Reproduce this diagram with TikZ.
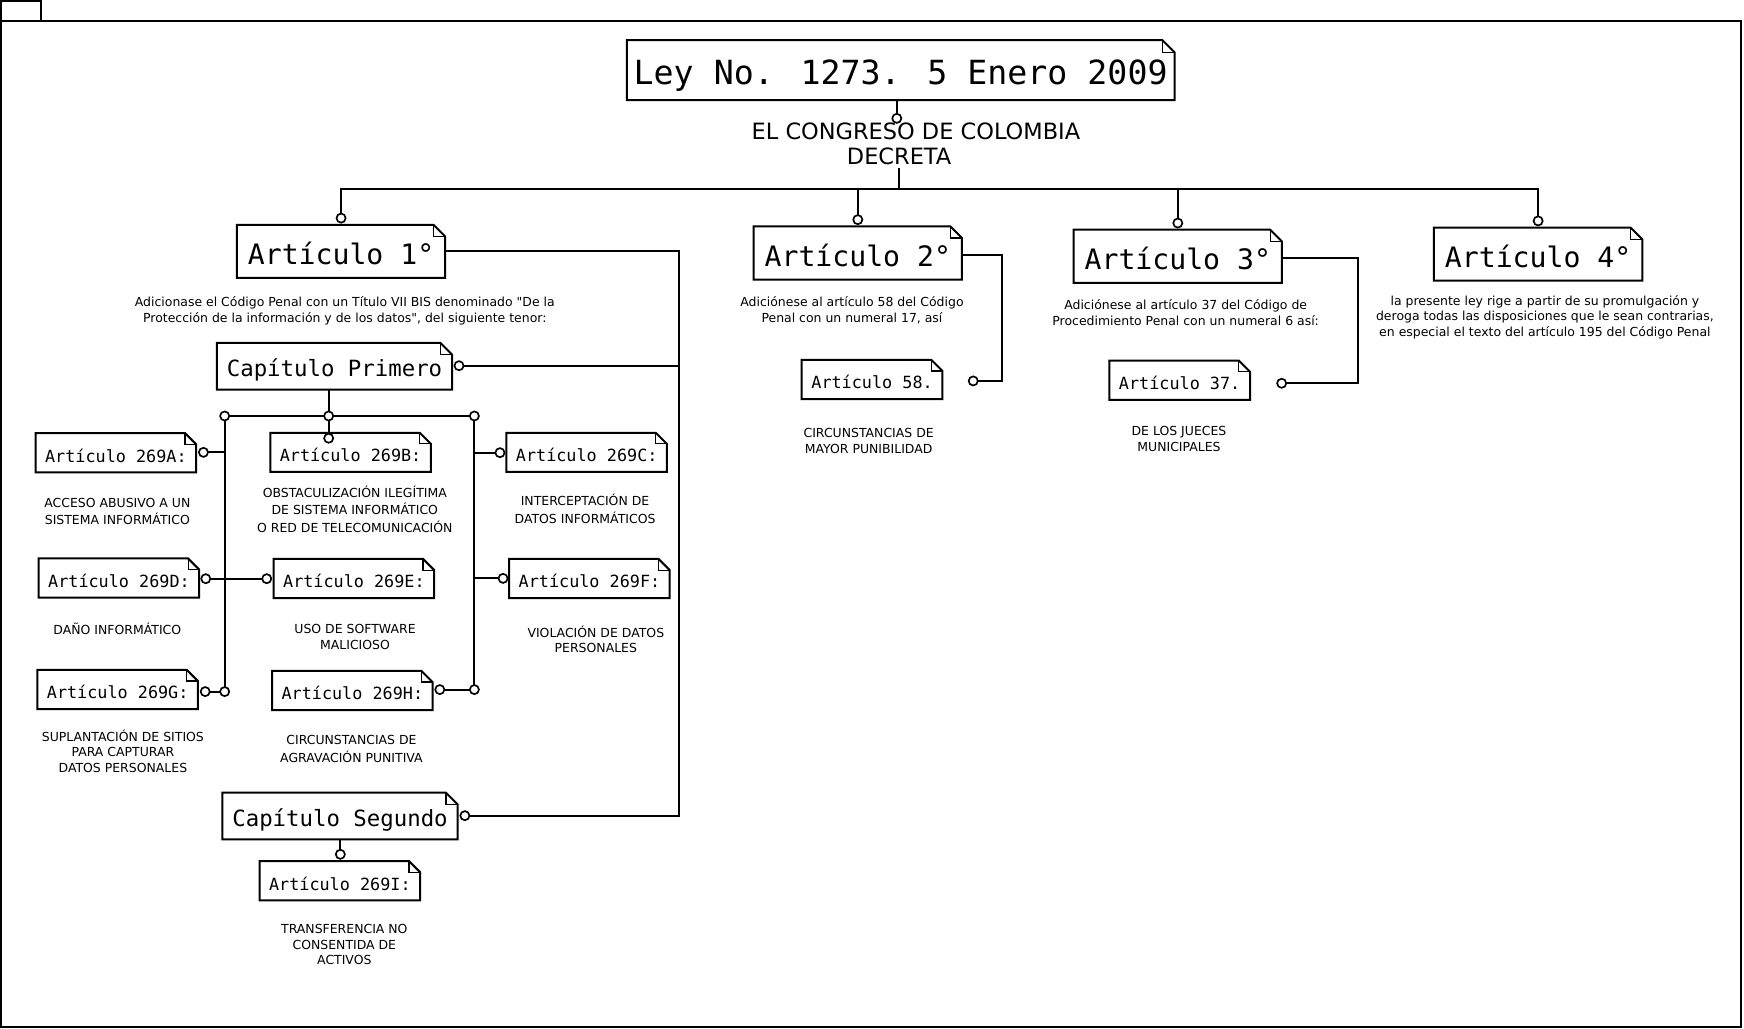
\documentclass[tikz,border=0pt]{standalone}
\usepackage{fontspec}
\setmainfont{DejaVu Sans}[Ligatures=TeXOff]
\newfontfamily\monofont{DejaVu Sans Mono}
\usetikzlibrary{calc}
\begin{document}
\begin{tikzpicture}[x=1pt,y=-1pt,
  ln/.style={line width=1.8pt},
  boxln/.style={line width=1.8pt},
  foldln/.style={line width=1pt},
  notebox/.style={inner sep=0pt,outer sep=0pt,text depth=0pt},
  leybox/.style={notebox,minimum width=492.5pt,minimum height=54pt,text height=26.8pt,font=\monofont\fontsize{29.9pt}{36pt}\selectfont},
  artbox/.style={notebox,minimum width=187.3pt,minimum height=47.8pt,text height=24pt,font=\monofont\fontsize{25.3pt}{30pt}\selectfont},
  capbox/.style={notebox,minimum width=211.5pt,minimum height=42pt,text height=19pt,font=\monofont\fontsize{20.1pt}{24pt}\selectfont},
  subbox/.style={notebox,minimum width=144.3pt,minimum height=35.2pt,text height=16.8pt,font=\monofont\fontsize{15.1pt}{18pt}\selectfont},
  minibox/.style={subbox,minimum width=126.5pt},
  desc/.style={inner sep=0pt,align=center,font=\fontsize{11.2pt}{14pt}\selectfont},
  endc/.style={circle,draw,fill=white,line width=1.5pt,minimum size=8.2pt,inner sep=0pt},
]
\useasboundingbox (0,0) rectangle (1568,925);
% frame
\draw[boxln] (0.9,18.6) rectangle (1565.1,923.1);
\draw[boxln] (0.9,18.6) -- (0.9,0.9) -- (36.8,0.9) -- (36.8,18.6);

% boxes
\node[leybox] (ley) at (809.75,63) {Ley No. 1273. 5 Enero 2009};
\node[artbox] (a1) at (306.65,226) {Artículo 1°};
\node[artbox] (a2) at (771.25,227.4) {Artículo 2°};
\node[artbox] (a3) at (1058.95,230.45) {Artículo 3°};
\node[artbox] (a4) at (1382.9,228.5) {Artículo 4°};
\node[capbox] (cap1) at (300.75,329.3) {Capítulo Primero};
\node[capbox] (cap2) at (305.7,733.65) {Capítulo Segundo};
\node[minibox] (s58) at (784.05,341.15) {Artículo 58.};
\node[minibox] (s37) at (1060.6,341.9) {Artículo 37.};
\node[subbox] (sA) at (104.2,407) {Artículo 269A:};
\node[subbox] (sB) at (315.2,406.7) {Artículo 269B:};
\node[subbox] (sC) at (527.5,406.7) {Artículo 269C:};
\node[subbox] (sD) at (106.95,519.7) {Artículo 269D:};
\node[subbox] (sE) at (318.2,520.15) {Artículo 269E:};
\node[subbox] (sF) at (530,520.15) {Artículo 269F:};
\node[subbox] (sG) at (105.8,619.9) {Artículo 269G:};
\node[subbox] (sH) at (316.8,620.8) {Artículo 269H:};
\node[subbox] (sI) at (305.55,791.8) {Artículo 269I:};

\foreach \n/\f in {ley/11,a1/10.5,a2/10.5,a3/10.5,a4/10.5,cap1/10.5,cap2/10.5,s58/10,s37/10,sA/10,sB/10,sC/10,sD/10,sE/10,sF/10,sG/10,sH/10,sI/10}{
  \draw[boxln] (\n.north west) -- ($(\n.north east)+(-\f,0)$) -- ($(\n.north east)+(0,\f)$) -- (\n.south east) -- (\n.south west) -- cycle;
  \draw[foldln] ($(\n.north east)+(-\f,0)$) -- ($(\n.north east)+(-\f,\f)$) -- ($(\n.north east)+(0,\f)$);
}

% texts
\node[inner sep=0pt,align=center,font=\fontsize{20.2pt}{22.5pt}\selectfont] (congreso) at (823.5,132) {\strut EL CONGRESO DE COLOMBIA\\\strut DECRETA\makebox[30.2pt]{}};
\node[desc] (d1) at (310,279.9) {\strut Adicionase el Código Penal con un Título VII BIS denominado "De la\\\strut Protección de la información y de los datos", del siguiente tenor:};
\node[desc] (d2) at (766,280.2) {\strut Adiciónese al artículo 58 del Código\\\strut Penal con un numeral 17, así};
\node[desc] (d3) at (1066,282.5) {\strut Adiciónese al artículo 37 del Código de\\\strut Procedimiento Penal con un numeral 6 así:};
\node[desc] (d4) at (1389,285.8) {\strut la presente ley rige a partir de su promulgación y\\\strut deroga todas las disposiciones que le sean contrarias,\\\strut en especial el texto del artículo 195 del Código Penal};
\node[desc] (d58) at (781,397.5) {\strut CIRCUNSTANCIAS DE\\\strut MAYOR PUNIBILIDAD};
\node[desc] (d37) at (1060,395.8) {\strut DE LOS JUECES\\\strut MUNICIPALES};
\node[desc] (dA) at (105.5,460.9) {\strut ACCESO ABUSIVO A UN\\\strut SISTEMA INFORMÁTICO};
\node[desc] (dB) at (319,459.9) {\strut OBSTACULIZACIÓN ILEGÍTIMA\\\strut DE SISTEMA INFORMÁTICO\\\strut O RED DE TELECOMUNICACIÓN};
\node[desc] (dC) at (526,459.5) {\strut INTERCEPTACIÓN DE\\\strut DATOS INFORMÁTICOS};
\node[desc] (dD) at (105.5,567) {\strut DAÑO INFORMÁTICO};
\node[desc] (dE) at (319.2,574.1) {\strut USO DE SOFTWARE\\\strut MALICIOSO};
\node[desc] (dF) at (535.7,576.9) {\strut VIOLACIÓN DE DATOS\\\strut PERSONALES};
\node[desc] (dG) at (110.5,677.3) {\strut SUPLANTACIÓN DE SITIOS\\\strut PARA CAPTURAR\\\strut DATOS PERSONALES};
\node[desc] (dH) at (316,674.8) {\strut CIRCUNSTANCIAS DE\\\strut AGRAVACIÓN PUNITIVA};
\node[desc] (dI) at (309.6,850.8) {\strut TRANSFERENCIA NO\\\strut CONSENTIDA DE\\\strut ACTIVOS};

% connector points
\coordinate (p0) at (806.3,106.4);
\coordinate (decr) at (808.4,151.3);
\coordinate (bus) at (808.4,170);
\coordinate (pa1) at ($(a1.north)+(0,-6)$);
\coordinate (pa2) at ($(a2.north)+(0,-6)$);
\coordinate (pa3) at ($(a3.north)+(0,-6)$);
\coordinate (pa4) at ($(a4.north)+(0,-6)$);
\coordinate (tr) at (610.3,0);
\coordinate (pc1) at ($(cap1.east)+(6.2,-0.5)$);
\coordinate (pc2) at ($(cap2.east)+(6.5,-0.3)$);
\coordinate (pjm) at (295.5,374);
\coordinate (pjl) at (202,374);
\coordinate (pjr) at (426.5,374);
\coordinate (pB) at (295.5,394);
\coordinate (pA) at (182.9,406.7);
\coordinate (pD) at (185,520.3);
\coordinate (pE) at (239.8,520.3);
\coordinate (pG) at (184.5,621.8);
\coordinate (pjG) at (202,621.8);
\coordinate (pH) at (395.4,620);
\coordinate (pjH) at (426.5,620);
\coordinate (pC) at (449.5,407);
\coordinate (pF) at (452.3,520);
\coordinate (pI) at (306,768.1);
\coordinate (p58) at (875,342.5);
\coordinate (r2) at (900.7,342.5);
\coordinate (p37) at (1152.3,344.6);
\coordinate (r3) at (1220.9,344.6);

% connectors
\draw[ln] (ley.south -| p0) -- (p0);
\draw[ln] (decr) -- (bus);
\draw[ln] (pa1) -- (pa1 |- bus) -- (pa4 |- bus) -- (pa4);
\draw[ln] (pa2) -- (pa2 |- bus);
\draw[ln] (pa3) -- (pa3 |- bus);
\draw[ln] (a1.east) -- (a1.east -| tr) -- (pc2 -| tr) -- (pc2);
\draw[ln] (pc1) -- (pc1 -| tr);
\draw[ln] (cap1.south -| pjm) -- (pB);
\draw[ln] (pjl) -- (pjr);
\draw[ln] (pjl) -- (pjG);
\draw[ln] (pjr) -- (pjH);
\draw[ln] (pA) -- (pA -| pjl);
\draw[ln] (pD) -- (pE);
\draw[ln] (pG) -- (pjG);
\draw[ln] (pH) -- (pjH);
\draw[ln] (pC) -- (pC -| pjr);
\draw[ln] (pF) -- (pF -| pjr);
\draw[ln] (cap2.south -| pI) -- (pI);
\draw[ln] ($(a2.east)+(0,1.9)$) -| (r2) -- (p58);
\draw[ln] ($(a3.east)+(0,1.2)$) -| (r3) -- (p37);

% end circles
\foreach \p in {p0,pa1,pa2,pa3,pa4,pc1,pc2,pjm,pjl,pjr,pB,pA,pD,pE,pG,pjG,pH,pjH,pC,pF,pI,p58,p37}{
  \node[endc] (o\p) at (\p) {};
}
\end{tikzpicture}
\end{document}
